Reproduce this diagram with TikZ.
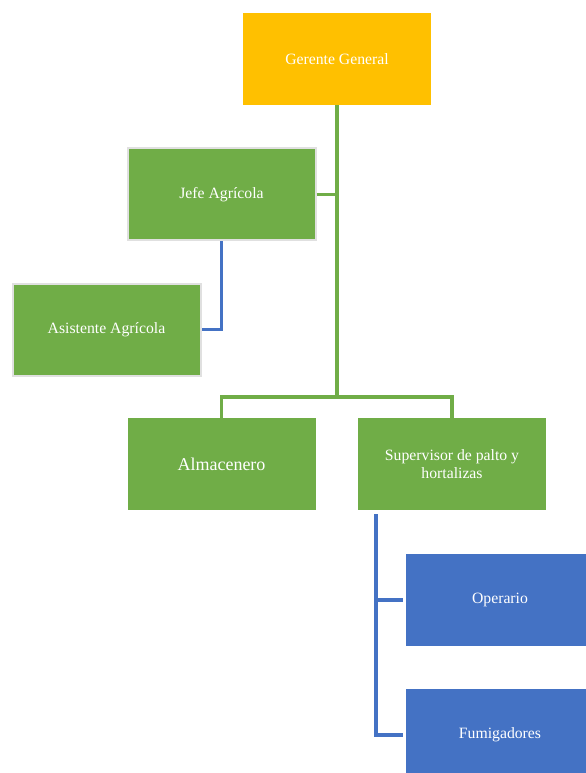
\documentclass[tikz,border=0pt]{standalone}
\usepackage{fontspec}
\setmainfont{Liberation Serif}
\usetikzlibrary{positioning}
\definecolor{oro}{HTML}{FFC000}
\definecolor{verde}{HTML}{70AD47}
\definecolor{azul}{HTML}{4472C4}
\begin{document}
\begin{tikzpicture}[x=0.75pt,y=-0.75pt,
    caja/.style={rectangle,align=center,text=white,inner sep=0pt,minimum width=141pt,minimum height=69pt,font=\fontsize{11.8}{13.5}\selectfont},
    gerb/.style={caja,fill=oro},
    verb/.style={caja,fill=verde},
    verbo/.style={verb,draw=black!12,line width=1.5pt},
    azub/.style={caja,fill=azul},
    gline/.style={draw=verde,line width=2.5pt},
    bline/.style={draw=azul,line width=2.5pt}]
    \useasboundingbox (0,0) rectangle (585,773);
    \node (ger) [gerb] at (337,59) {Gerente General};
    \node (jefe) [verbo] at (221.5,194.5) {Jefe Agrícola};
    \node (asis) [verbo] at (106.5,329.5) {Asistente Agrícola};
    \node (alm) [verb,font=\fontsize{13.5}{15}\selectfont] at (221.5,464) {Almacenero};
    \node (sup) [verb] at (452,464) {Supervisor de palto y\\hortalizas};
    \node (ope) [azub] at (500,600) {Operario};
    \node (fum) [azub] at (500,735) {Fumigadores};
    \coordinate (bus) at (337,397);
    \coordinate (sta) at (376,514);
    \draw[gline] (ger.south) -- (bus);
    \draw[gline] (jefe.east) -- (jefe.east -| bus);
    \draw[gline] (alm.north) |- (bus) -| (sup.north);
    \draw[bline] (jefe.south) |- (asis.east);
    \draw[bline] (sta) |- ([xshift=-2pt]fum.west);
    \draw[bline] (sta |- ope.west) -- ([xshift=-2pt]ope.west);
\end{tikzpicture}
\end{document}
